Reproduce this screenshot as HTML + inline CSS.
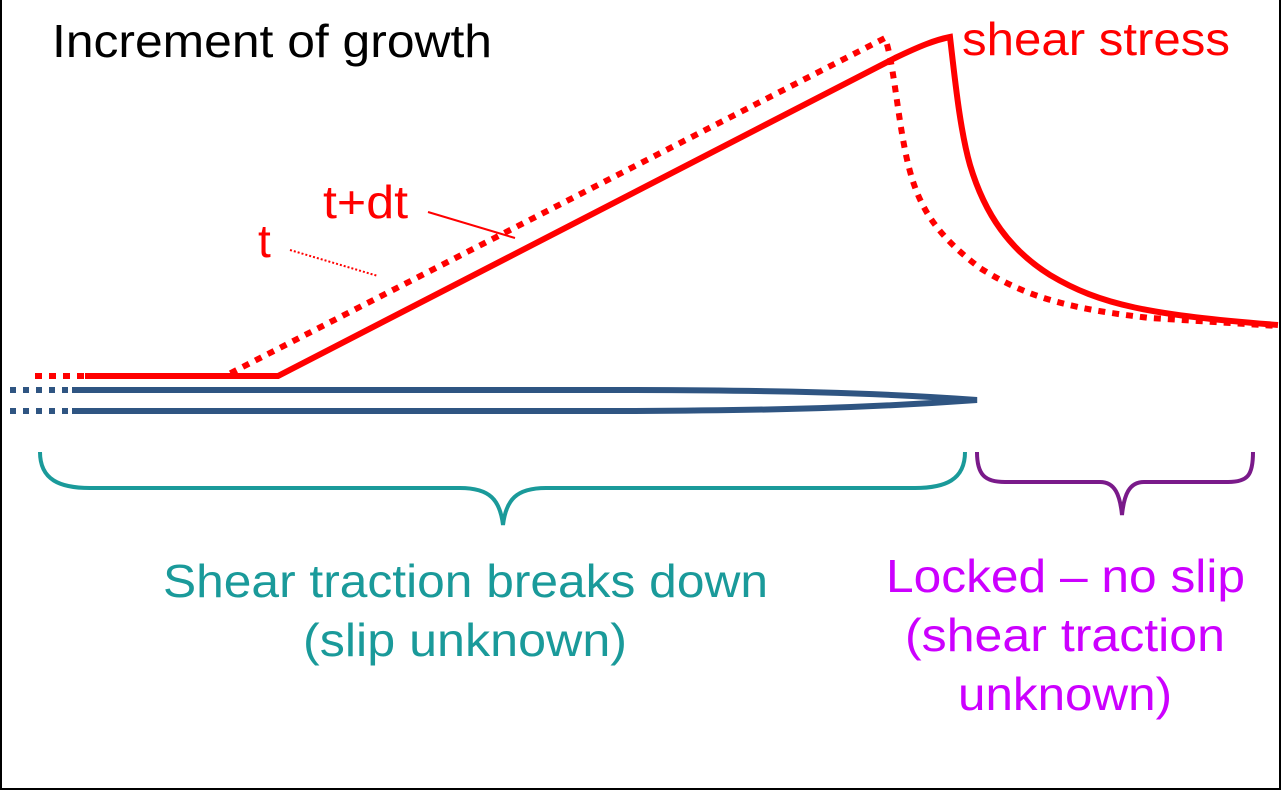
<!DOCTYPE html>
<html><head><style>
html,body{margin:0;padding:0;background:#fff}
svg{display:block}
text{font-family:"Liberation Sans",Arial,sans-serif}
</style></head><body>
<svg width="1283" height="791" viewBox="0 0 1283 791" xmlns="http://www.w3.org/2000/svg">
<rect x="1" y="-2" width="1279" height="791" fill="#fff" stroke="#000" stroke-width="2"/>
<text x="52" y="57" font-size="46" fill="#000" textLength="440" lengthAdjust="spacingAndGlyphs">Increment of growth</text>
<text x="962" y="55" font-size="46" fill="#f00" textLength="268" lengthAdjust="spacingAndGlyphs">shear stress</text>
<text x="323" y="218" font-size="46" fill="#f00" textLength="85" lengthAdjust="spacingAndGlyphs">t+dt</text>
<text x="258" y="257" font-size="46" fill="#f00">t</text>
<line x1="428" y1="212" x2="515" y2="238" stroke="#f00" stroke-width="2"/>
<line x1="290" y1="250" x2="378" y2="276" stroke="#f00" stroke-width="2" stroke-dasharray="2,2"/>
<path d="M35,376 L225,376 L885,38 C893,60 897,110 905,150 C915,200 930,230 980,268 C1030,300 1080,310 1150,318 L1278,326" fill="none" stroke="#f00" stroke-width="6" stroke-dasharray="7,7"/>
<path d="M85,376 L278,376 L895,58 C920,46 935,40 950,37 C955,80 960,130 970,165 C985,215 1010,250 1050,275 C1100,305 1150,315 1278,325" fill="none" stroke="#f00" stroke-width="6"/>
<line x1="10" y1="390" x2="70" y2="390" stroke="#2f5582" stroke-width="6" stroke-dasharray="6,7"/>
<line x1="10" y1="411" x2="70" y2="411" stroke="#2f5582" stroke-width="6" stroke-dasharray="6,7"/>
<path d="M72,390 L600,390 C780,390 880,393 977,400 C880,407 780,411 600,411 L72,411" fill="none" stroke="#2f5582" stroke-width="6"/>
<line x1="820" y1="400" x2="910" y2="400" stroke="#fff" stroke-width="2" stroke-dasharray="5,4"/>
<path d="M40,452 C40,480 60,488 90,488 L460,488 C490,488 500,500 503,525 C506,500 516,488 546,488 L915,488 C945,488 965,480 965,452" fill="none" stroke="#1a9a9a" stroke-width="4"/>
<path d="M977,452 C977,475 985,482 1005,482 L1100,482 C1115,482 1120,495 1122,515 C1124,495 1129,482 1144,482 L1228,482 C1248,482 1253,475 1253,452" fill="none" stroke="#7a1a8a" stroke-width="4"/>
<text x="163" y="597" font-size="46" fill="#1a9a9a" textLength="605" lengthAdjust="spacingAndGlyphs">Shear traction breaks down</text>
<text x="303" y="656" font-size="46" fill="#1a9a9a" textLength="324" lengthAdjust="spacingAndGlyphs">(slip unknown)</text>
<text x="886" y="592" font-size="46" fill="#cc00ff" textLength="359" lengthAdjust="spacingAndGlyphs">Locked – no slip</text>
<text x="905" y="651" font-size="46" fill="#cc00ff" textLength="320" lengthAdjust="spacingAndGlyphs">(shear traction</text>
<text x="958" y="710" font-size="46" fill="#cc00ff" textLength="214" lengthAdjust="spacingAndGlyphs">unknown)</text>
</svg>
</body></html>
